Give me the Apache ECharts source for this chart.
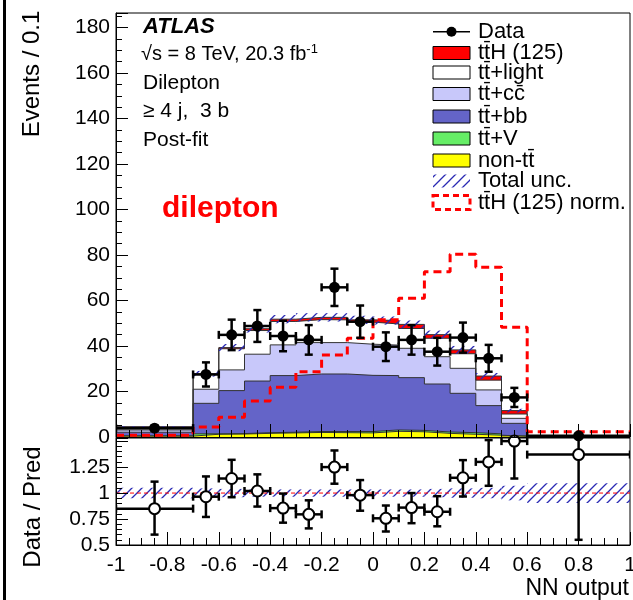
<!DOCTYPE html>
<html>
<head>
<meta charset="utf-8">
<script src="https://cdn.jsdelivr.net/npm/echarts@6.0.0/dist/echarts.min.js"></script>
<style>
  html, body { margin: 0; padding: 0; background: #fff; }
  #chart { width: 633px; height: 600px; }
</style>
</head>
<body>
<div id="chart"></div>
<script>
// NN output binning (first and last bins are wide)
var binEdges = [-1, -0.7, -0.6, -0.5, -0.4, -0.3, -0.2, -0.1, 0, 0.1, 0.2, 0.3, 0.4, 0.5, 0.6, 1];
var binCenters = [-0.85, -0.65, -0.55, -0.45, -0.35, -0.25, -0.15, -0.05, 0.05, 0.15, 0.25, 0.35, 0.45, 0.55, 0.8];

// post-fit predictions, events / 0.1 (bottom of the stack first)
var nonTT = [0.4, 1.2, 1.3, 1.6, 1.8, 2.0, 1.9, 1.8, 2.5, 2.3, 1.6, 1.2, 0.8, 0.3, 0.05];
var ttV = [0.1, 0.2, 0.2, 0.3, 0.3, 0.4, 0.5, 0.6, 0.6, 0.6, 0.6, 0.7, 0.6, 0.2, 0.05];
var ttbb = [1.6, 13.4, 18.9, 22.7, 24.9, 25.3, 25.3, 24.7, 23.9, 23.2, 21.1, 17.3, 12.4, 5.5, 0.05];
var ttcc = [1.0, 6.2, 9.1, 11.8, 13.5, 13.8, 13.8, 13.7, 13.4, 12.9, 12.0, 11.0, 6.9, 2.2, 0.05];
var ttlight = [1.3, 6.4, 9.3, 10.4, 10.3, 10.1, 10.0, 9.7, 9.3, 8.7, 8.1, 6.4, 4.3, 1.9, 0.1];
var ttH = [0.1, 0.4, 0.5, 0.8, 1.0, 1.0, 1.1, 1.0, 1.5, 1.8, 1.6, 1.7, 1.8, 1.5, 0.05];

// ttH normalised to the total background
var ttHNorm = [0.8, 4.4, 8.7, 15.8, 21.9, 28.7, 36.0, 43.4, 51.5, 61.0, 72.7, 80.3, 74.6, 48.2, 2.3];

// relative total uncertainty
var relUnc = [0.05, 0.045, 0.04, 0.035, 0.035, 0.035, 0.035, 0.035, 0.035, 0.035, 0.04, 0.045, 0.05, 0.07, 0.095];

// data
var dataVals = [3.9, 27.5, 44.9, 48.8, 44.4, 42.7, 65.8, 50.7, 39.7, 42.7, 37.5, 43.7, 34.6, 17.4, 0.5];
var dataErr = [1.1, 5.3, 6.7, 7.0, 6.7, 6.5, 8.2, 7.1, 6.3, 6.5, 6.1, 6.6, 5.9, 4.2, 0.35];

// data / prediction
var ratioVals = [0.85, 0.965, 1.14, 1.02, 0.855, 0.795, 1.25, 0.98, 0.757, 0.86, 0.82, 1.147, 1.30, 1.50, 1.37];
var ratioErrLo = [0.25, 0.195, 0.18, 0.15, 0.14, 0.135, 0.16, 0.15, 0.127, 0.15, 0.14, 0.18, 0.23, 0.36, 0.82];
var ratioErrHi = [0.26, 0.195, 0.18, 0.16, 0.14, 0.135, 0.16, 0.145, 0.123, 0.14, 0.15, 0.17, 0.21, 0.03, 0.25];

var FONT = 'Liberation Sans, Arial, Helvetica, sans-serif';
var TB = 't\u0304';

function hatchPattern () {
  var c = document.createElement('canvas');
  c.width = 10;
  c.height = 10;
  var ctx = c.getContext('2d');
  ctx.strokeStyle = '#2a2ab4';
  ctx.lineWidth = 1.3;
  ctx.beginPath();
  ctx.moveTo(0, 10);
  ctx.lineTo(10, 0);
  ctx.moveTo(-1, 1);
  ctx.lineTo(1, -1);
  ctx.moveTo(9, 11);
  ctx.lineTo(11, 9);
  ctx.stroke();
  return {image: c, repeat: 'repeat'};
}
var hatch = hatchPattern();

// cumulative stack, bottom -> top
var layers = [
  {name: 'non-tt', values: nonTT, color: '#ffff00'},
  {name: 'tt+V', values: ttV, color: '#66ee66'},
  {name: 'tt+bb', values: ttbb, color: '#6464c8'},
  {name: 'tt+cc', values: ttcc, color: '#c8c8fa'},
  {name: 'tt+light', values: ttlight, color: '#ffffff'},
  {name: 'ttH', values: ttH, color: '#ff0000'}
];
var running = binCenters.map(function () { return 0; });
layers.forEach(function (l) {
  l.top = l.values.map(function (v, i) {
    running[i] += v;
    return running[i];
  });
});
var total = running.slice();

function stepData (vals) {
  return binEdges.map(function (e, i) {
    return [e, vals[Math.min(i, vals.length - 1)]];
  });
}

function bandRender (params, api) {
  var p0 = api.coord([api.value(0), api.value(3)]);
  var p1 = api.coord([api.value(1), api.value(2)]);
  return {
    type: 'rect',
    shape: {x: p0[0], y: p0[1], width: p1[0] - p0[0], height: p1[1] - p0[1]},
    style: {fill: hatch}
  };
}

function errorRender (params, api) {
  var x = api.value(0), y = api.value(1);
  var l = api.coord([api.value(2), y]);
  var r = api.coord([api.value(3), y]);
  var b = api.coord([x, y - api.value(4)]);
  var t = api.coord([x, y + api.value(5)]);
  var st = {stroke: '#000', lineWidth: 2.5};
  var cap = 4;
  function ln (x1, y1, x2, y2) {
    return {type: 'line', shape: {x1: x1, y1: y1, x2: x2, y2: y2}, style: st};
  }
  return {
    type: 'group',
    children: [
      ln(l[0], l[1], r[0], r[1]),
      ln(b[0], b[1], t[0], t[1]),
      ln(l[0], l[1] - cap, l[0], l[1] + cap),
      ln(r[0], r[1] - cap, r[0], r[1] + cap),
      ln(b[0] - cap, b[1], b[0] + cap, b[1]),
      ln(t[0] - cap, t[1], t[0] + cap, t[1])
    ]
  };
}

var series = [];

// stack: draw the largest cumulative first, each smaller one on top
layers.slice().reverse().forEach(function (l) {
  series.push({
    type: 'line',
    name: l.name,
    xAxisIndex: 0,
    yAxisIndex: 0,
    step: 'end',
    symbol: 'none',
    data: stepData(l.top),
    lineStyle: {color: '#333', width: 1},
    areaStyle: {color: l.color, opacity: 1, origin: 'start'},
    z: 2
  });
});

series.push({
  type: 'custom',
  name: 'Total unc.',
  xAxisIndex: 0,
  yAxisIndex: 0,
  renderItem: bandRender,
  data: total.map(function (t, i) {
    return [binEdges[i], binEdges[i + 1], t * (1 - relUnc[i]), t * (1 + relUnc[i])];
  }),
  z: 3
});

series.push({
  type: 'line',
  name: 'ttH norm',
  xAxisIndex: 0,
  yAxisIndex: 0,
  step: 'end',
  symbol: 'none',
  data: stepData(ttHNorm),
  lineStyle: {color: '#ff0000', width: 3, type: [8, 5]},
  z: 4
});

series.push({
  type: 'custom',
  name: 'Data err',
  xAxisIndex: 0,
  yAxisIndex: 0,
  renderItem: errorRender,
  clip: true,
  data: dataVals.map(function (v, i) {
    return [binCenters[i], v, binEdges[i], binEdges[i + 1], dataErr[i], dataErr[i]];
  }),
  z: 5
});
series.push({
  type: 'scatter',
  name: 'Data',
  xAxisIndex: 0,
  yAxisIndex: 0,
  symbolSize: 11,
  itemStyle: {color: '#000', opacity: 1},
  data: dataVals.map(function (v, i) { return [binCenters[i], v]; }),
  z: 6
});

// ratio panel
series.push({
  type: 'custom',
  name: 'Ratio unc',
  xAxisIndex: 1,
  yAxisIndex: 1,
  renderItem: bandRender,
  data: relUnc.map(function (u, i) {
    return [binEdges[i], binEdges[i + 1], 1 - u, 1 + u];
  }),
  z: 3
});
series.push({
  type: 'line',
  name: 'unity',
  xAxisIndex: 1,
  yAxisIndex: 1,
  symbol: 'none',
  data: [[-1, 1], [1, 1]],
  lineStyle: {color: '#ff0000', width: 1, type: [4, 3]},
  z: 4
});
series.push({
  type: 'custom',
  name: 'Ratio err',
  xAxisIndex: 1,
  yAxisIndex: 1,
  renderItem: errorRender,
  clip: true,
  data: ratioVals.map(function (v, i) {
    return [binCenters[i], v, binEdges[i], binEdges[i + 1], ratioErrLo[i], ratioErrHi[i]];
  }),
  z: 5
});
series.push({
  type: 'scatter',
  name: 'Ratio',
  xAxisIndex: 1,
  yAxisIndex: 1,
  symbolSize: 11,
  clip: false,
  itemStyle: {color: '#ffffff', borderColor: '#000', borderWidth: 2, opacity: 1},
  data: ratioVals.map(function (v, i) { return [binCenters[i], v]; }),
  z: 6
});

function xAxisCfg (grid, labels) {
  return {
    type: 'value',
    gridIndex: grid,
    min: -1,
    max: 1,
    interval: 0.2,
    z: 10,
    axisLine: {onZero: false, lineStyle: {color: '#000', width: 1}},
    axisTick: {inside: true, length: 13, lineStyle: {color: '#000'}},
    minorTick: {show: true, splitNumber: 4, length: 7, lineStyle: {color: '#000'}},
    splitLine: {show: false},
    axisLabel: {show: labels, color: '#000', fontFamily: FONT, fontSize: 21, margin: 10}
  };
}

// legend entries drawn by hand to keep the ROOT look
var legendRows = [31.7, 53, 72.5, 94, 116.5, 138.5, 160.5, 181, 202.5];
var legendLabels = ['Data', 't' + TB + 'H (125)', 't' + TB + '+light', 't' + TB + '+cc\u0304',
  't' + TB + '+bb', 't' + TB + '+V', 'non-t' + TB, 'Total unc.', 't' + TB + 'H (125) norm.'];
var legendFills = [null, '#ff0000', '#ffffff', '#c8c8fa', '#6464c8', '#66ee66', '#ffff00'];

var graphics = [
  {type: 'rect', left: 3, top: 0, shape: {width: 3, height: 600}, style: {fill: '#000'}}
];
legendRows.forEach(function (y, i) {
  var lx = 433, lw = 37;
  if (i === 0) {
    graphics.push({type: 'line', shape: {x1: lx, y1: y, x2: lx + lw, y2: y}, style: {stroke: '#000', lineWidth: 1.5}});
    graphics.push({type: 'circle', shape: {cx: lx + lw / 2, cy: y, r: 5}, style: {fill: '#000'}});
  } else if (i < 7) {
    graphics.push({type: 'rect', shape: {x: lx, y: y - 6.5, width: lw, height: 13}, style: {fill: legendFills[i], stroke: '#000', lineWidth: 1}});
  } else if (i === 7) {
    graphics.push({type: 'rect', shape: {x: lx, y: y - 6.5, width: lw, height: 13}, style: {fill: hatch}});
  } else {
    graphics.push({type: 'rect', shape: {x: lx, y: y - 7, width: lw, height: 14}, style: {fill: 'none', stroke: '#ff0000', lineWidth: 3, lineDash: [6, 4]}});
  }
  graphics.push({
    type: 'text', x: 478, y: y,
    style: {text: legendLabels[i], font: '22px ' + FONT, fill: '#000', textVerticalAlign: 'middle'}
  });
});

var infoLines = ['Dilepton', '\u2265 4 j,  3 b', 'Post-fit'];
graphics.push({type: 'text', x: 143, y: 27, style: {text: 'ATLAS', font: 'italic bold 22px ' + FONT, fill: '#000', textVerticalAlign: 'middle'}});
graphics.push({
  type: 'text', x: 141, y: 54,
  style: {
    text: '{a|\u221As = 8 TeV, 20.3 fb}{s|-1}',
    textVerticalAlign: 'middle',
    rich: {
      a: {font: '20px ' + FONT, color: '#000'},
      s: {font: '13px ' + FONT, color: '#000', verticalAlign: 'top', padding: [0, 0, 10, 0]}
    }
  }
});
infoLines.forEach(function (t, i) {
  graphics.push({type: 'text', x: 143, y: 83 + i * 28.5, style: {text: t, font: '21px ' + FONT, fill: '#000', textVerticalAlign: 'middle'}});
});
graphics.push({type: 'text', x: 162, y: 209, style: {text: 'dilepton', font: 'bold 30px ' + FONT, fill: '#ff0000', textVerticalAlign: 'middle'}});
graphics.push({type: 'text', x: 32, y: 74, rotation: Math.PI / 2, style: {text: 'Events / 0.1', font: '24px ' + FONT, fill: '#000', textAlign: 'center', textVerticalAlign: 'middle'}});
graphics.push({type: 'text', x: 33, y: 507, rotation: Math.PI / 2, style: {text: 'Data / Pred', font: '24px ' + FONT, fill: '#000', textAlign: 'center', textVerticalAlign: 'middle'}});
graphics.push({type: 'text', x: 629, y: 589, style: {text: 'NN output', font: '23px ' + FONT, fill: '#000', textAlign: 'right', textVerticalAlign: 'middle'}});

var chart = echarts.init(document.getElementById('chart'), null, {renderer: 'canvas'});
chart.setOption({
  animation: false,
  backgroundColor: '#fff',
  grid: [
    {left: 116, top: 13, right: 3, height: 424, show: true, borderColor: '#000', borderWidth: 1, containLabel: false, outerBoundsMode: 'none'},
    {left: 116, top: 438, right: 3, height: 107, show: true, borderColor: '#000', borderWidth: 1, containLabel: false, outerBoundsMode: 'none'}
  ],
  xAxis: [xAxisCfg(0, false), xAxisCfg(1, true)],
  yAxis: [
    {
      type: 'value', gridIndex: 0, min: 0, max: 186.4, interval: 20, z: 10,
      axisLine: {show: true, onZero: false, lineStyle: {color: '#000'}},
      axisTick: {inside: true, length: 12, lineStyle: {color: '#000'}},
      minorTick: {show: true, splitNumber: 4, length: 6, lineStyle: {color: '#000'}},
      splitLine: {show: false},
      axisLabel: {
        color: '#000', fontFamily: FONT, fontSize: 21, margin: 6, showMaxLabel: false,
        formatter: function (v) { return Math.abs(v % 20) < 1e-6 ? String(v) : ''; }
      }
    },
    {
      type: 'value', gridIndex: 1, min: 0.5, max: 1.53, interval: 0.25, z: 10,
      axisLine: {show: true, onZero: false, lineStyle: {color: '#000'}},
      axisTick: {inside: true, length: 12, lineStyle: {color: '#000'}},
      minorTick: {show: true, splitNumber: 5, length: 6, lineStyle: {color: '#000'}},
      splitLine: {show: false},
      axisLabel: {
        color: '#000', fontFamily: FONT, fontSize: 21, margin: 6, showMaxLabel: false,
        formatter: function (v) { return v < 1.3 ? String(v) : ''; }
      }
    }
  ],
  graphic: graphics,
  series: series
});
</script>
</body>
</html>
